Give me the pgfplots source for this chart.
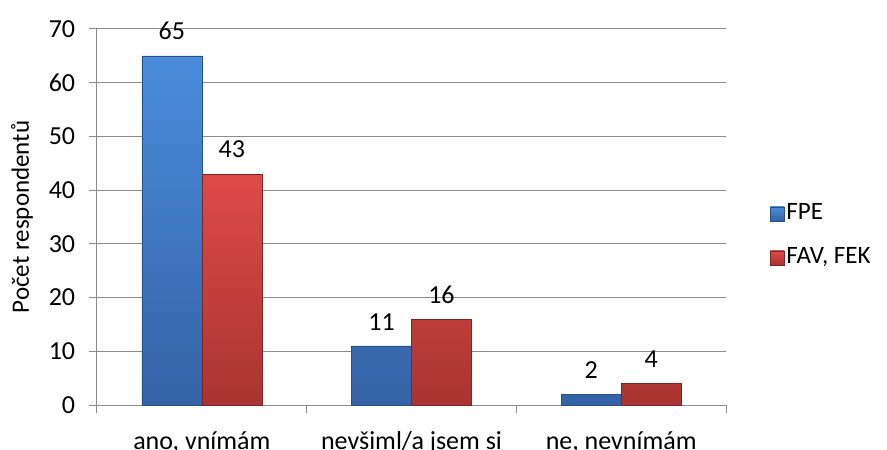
\documentclass[border=0pt]{standalone}
\usepackage{fontspec}
\setmainfont{Carlito}
\usepackage{pgfplots}
\pgfplotsset{compat=1.18}
\definecolor{gridc}{HTML}{8C8C8C}
\definecolor{btop}{HTML}{4A8DDC}
\definecolor{bbot}{HTML}{3462A6}
\definecolor{bdraw}{HTML}{2A4F86}
\definecolor{rtop}{HTML}{DE4A48}
\definecolor{rbot}{HTML}{A93431}
\definecolor{rdraw}{HTML}{7E2624}
\begin{document}
\fontsize{26}{30}\selectfont
\begin{tikzpicture}
\useasboundingbox (-97pt,-45pt) rectangle (790pt,405pt);
\begin{axis}[
  at={(0pt,0pt)}, anchor=south west,
  scale only axis, width=629pt, height=376pt,
  xmin=-0.5, xmax=2.5, ymin=0, ymax=70,
  ybar=0pt, bar width=0.286,
  xtick={0,1,2},
  xticklabels={{ano, vnímám},{nevšiml/a jsem si},{ne, nevnímám}},
  major x tick style={draw=none},
  minor xtick={-0.5,0.5,1.5,2.5},
  minor x tick style={draw=gridc, line width=1pt},
  minor tick length=8pt,
  ytick={0,10,...,70},
  major tick length=8pt,
  tick align=outside,
  y tick style={draw=gridc, line width=1pt},
  ymajorgrids,
  grid style={draw=gridc, line width=1pt},
  axis x line*=bottom, axis y line*=left,
  axis line style={draw=gridc, line width=1pt, -},
  tick label style={font=\fontsize{26}{30}\selectfont},
  /pgf/number format/assume math mode=true,
  xticklabel style={yshift=-10pt},
  yticklabel style={xshift=-5pt},
  ylabel={Počet respondentů},
  every axis y label/.style={at={(axis description cs:-0.119,0.5)}, rotate=90, anchor=center, font=\fontsize{25}{29}\selectfont},
  nodes near coords,
  every node near coord/.append style={font=\fontsize{26}{30}\selectfont, yshift=7pt, color=black},
  legend style={at={(1.065,0.45)}, anchor=west, draw=none, fill=none,
     font=\fontsize{25}{29}\selectfont, row sep=20pt, legend cell align=left},
  legend image code/.code={\path[#1] (0pt,-7pt) rectangle (14pt,7pt);},
]
\addplot[draw=bdraw, top color=btop, bottom color=bbot]
  coordinates {(0,65) (1,11) (2,2)};
\addplot[draw=rdraw, top color=rtop, bottom color=rbot]
  coordinates {(0,43) (1,16) (2,4)};
\legend{FPE, {FAV, FEK}}
\end{axis}
\end{tikzpicture}
\end{document}
